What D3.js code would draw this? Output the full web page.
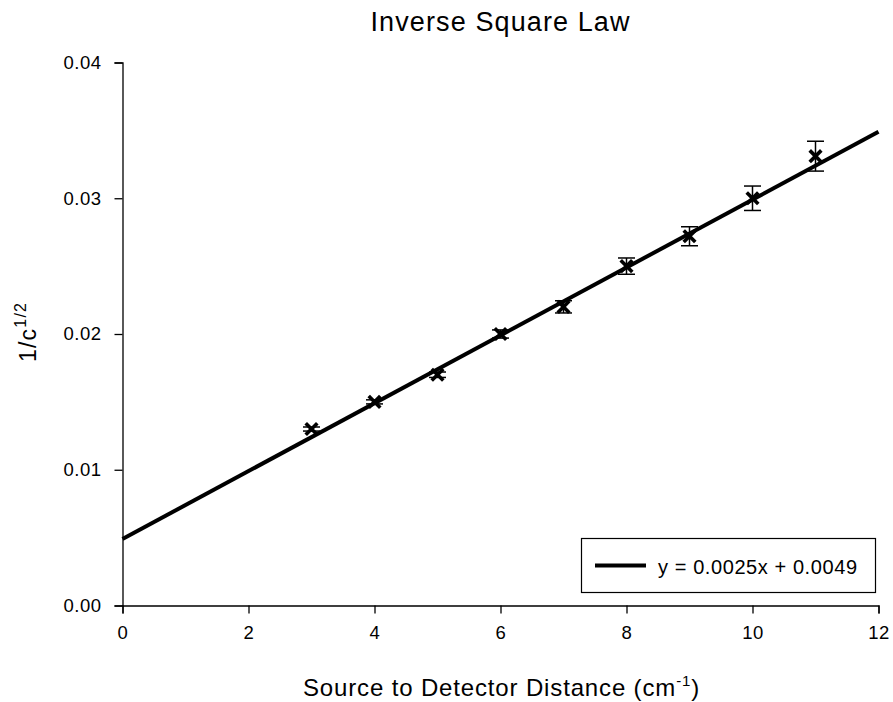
<!DOCTYPE html>
<html><head><meta charset="utf-8">
<script src="https://cdn.jsdelivr.net/npm/d3@7"></script>
<style>
html,body{margin:0;padding:0;background:#fff;}
text{font-family:"Liberation Sans",Arial,sans-serif;fill:#000;}
</style></head>
<body>
<svg id="chart" width="893" height="702"></svg>
<script>
// Data
const distances = [3, 4, 5, 6, 7, 8, 9, 10, 11];
const invRootCounts = [0.0130, 0.0150, 0.0170, 0.0200, 0.0220, 0.0250, 0.0272, 0.0300, 0.0331];
const errors = [0.00015, 0.00015, 0.0002, 0.0003, 0.00045, 0.0006, 0.0007, 0.0009, 0.0011];
const fitSlope = 0.0025;
const fitIntercept = 0.0049;
const xTicks = [0, 2, 4, 6, 8, 10, 12];
const yTicks = [0.00, 0.01, 0.02, 0.03, 0.04];
const titleText = "Inverse Square Law";
const legendText = "y = 0.0025x + 0.0049";

const svg = d3.select("#chart");
const x = d3.scaleLinear().domain([0, 12]).range([122.5, 878.5]);
const y = d3.scaleLinear().domain([0, 0.04]).range([605.5, 62.5]);

// axes
const xAxis = d3.axisBottom(x).tickValues(xTicks).tickFormat(d3.format("d")).tickSizeOuter(0).tickSize(8).tickPadding(12);
const gx = svg.append("g").attr("transform", "translate(0,605.5)").call(xAxis);
const yAxis = d3.axisLeft(y).tickValues(yTicks).tickFormat(d3.format(".2f")).tickSizeOuter(0).tickSize(8).tickPadding(13);
const gy = svg.append("g").attr("transform", "translate(122.5,0)").call(yAxis);
[gx, gy].forEach(g => {
  g.select(".domain").attr("stroke", "#000").attr("stroke-width", 1.3);
  g.selectAll(".tick line").attr("stroke", "#000").attr("stroke-width", 1.3);
  g.selectAll(".tick text").attr("font-size", 18.5).attr("font-family", "Liberation Sans, Arial, sans-serif").attr("letter-spacing", "0.5px").attr("fill", "#000");
});
gx.selectAll(".tick text").attr("dy", "0.71em");

// fit line
const fitX = [0, 12];
svg.append("line")
  .attr("x1", x(fitX[0])).attr("y1", y(fitSlope * fitX[0] + fitIntercept))
  .attr("x2", x(fitX[1])).attr("y2", y(fitSlope * fitX[1] + fitIntercept))
  .attr("stroke", "#000").attr("stroke-width", 4);

// error bars
const pts = distances.map((d, i) => ({x: d, y: invRootCounts[i], e: errors[i]}));
const eb = svg.append("g").attr("stroke", "#000").attr("stroke-width", 1.5);
pts.forEach(p => {
  const cx = x(p.x), top = y(p.y + p.e), bot = y(p.y - p.e);
  eb.append("line").attr("x1", cx).attr("x2", cx).attr("y1", top).attr("y2", bot);
  eb.append("line").attr("x1", cx - 8.5).attr("x2", cx + 8.5).attr("y1", top).attr("y2", top);
  eb.append("line").attr("x1", cx - 8.5).attr("x2", cx + 8.5).attr("y1", bot).attr("y2", bot);
});

// markers (X)
const mk = svg.append("g").attr("stroke", "#000").attr("stroke-width", 3.6);
pts.forEach(p => {
  const cx = x(p.x), cy = y(p.y), s = 5.8;
  mk.append("line").attr("x1", cx - s).attr("y1", cy - s).attr("x2", cx + s).attr("y2", cy + s);
  mk.append("line").attr("x1", cx - s).attr("y1", cy + s).attr("x2", cx + s).attr("y2", cy - s);
});

// title
svg.append("text").attr("x", 500).attr("y", 31).attr("text-anchor", "middle")
  .attr("font-size", 27).attr("textLength", 259).attr("lengthAdjust", "spacing").text(titleText);

// x label
const xl = svg.append("text").attr("x", 303).attr("y", 696).attr("font-size", 24).attr("letter-spacing", "0.85px");
xl.append("tspan").text("Source to Detector Distance (cm");
xl.append("tspan").attr("font-size", 15).attr("dy", -10).text("-1");
xl.append("tspan").attr("dy", 10).text(")");

// y label
const yl = svg.append("text").attr("transform", "translate(36,362) rotate(-90)").attr("font-size", 23).attr("letter-spacing", "1.2px");
yl.append("tspan").text("1/c");
yl.append("tspan").attr("font-size", 16).attr("dy", -10).text("1/2");

// legend
svg.append("rect").attr("x", 581.5).attr("y", 538.5).attr("width", 294).attr("height", 54)
  .attr("fill", "#fff").attr("stroke", "#000").attr("stroke-width", 1.2);
svg.append("line").attr("x1", 595).attr("x2", 646).attr("y1", 565.5).attr("y2", 565.5)
  .attr("stroke", "#000").attr("stroke-width", 4);
svg.append("text").attr("x", 658).attr("y", 573.5).attr("font-size", 20)
  .attr("textLength", 199).attr("lengthAdjust", "spacing").text(legendText);
</script>
</body></html>
